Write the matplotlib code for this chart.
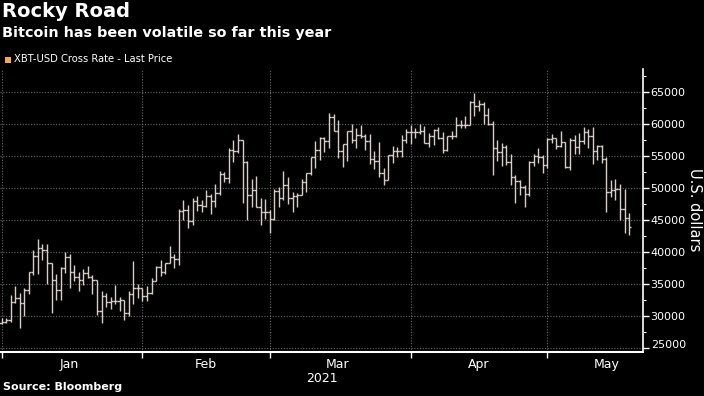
import matplotlib
matplotlib.use("Agg")
import matplotlib.pyplot as plt
import matplotlib.dates as mdates
import matplotlib.transforms as mtrans
from matplotlib.collections import LineCollection
from matplotlib.patches import Rectangle
from matplotlib.ticker import MultipleLocator, FixedLocator, NullFormatter
import numpy as np
import pandas as pd

# ---------------- data (XBT-USD daily OHLC) ----------------
start_date = "2021-01-01"
opens = [28900, 28950, 29375, 32100, 32780, 31970, 33990, 36800, 39400, 40670,
         40240, 38240, 35570, 34000, 37400, 39150, 36800, 36070, 35550, 36640,
         36000, 35550, 30800, 33000, 32100, 32300, 32250, 32500, 30400, 33400,
         34300, 34300, 33100, 33500, 35500, 37600, 36900, 38300, 39200, 38800,
         46400, 46500, 44900, 47900, 47400, 47200, 48700, 47900, 49200, 52200,
         51600, 55900, 55800, 57500, 54100, 48900, 49700, 47100, 46300, 46200,
         45200, 49600, 48400, 50500, 48400, 48800, 48900, 51000, 52400, 54900,
         56000, 57800, 57300, 61200, 59000, 55800, 56900, 58900, 57600, 58300,
         58100, 57400, 54500, 54300, 52300, 51300, 55100, 55800, 55800, 57600,
         58800, 58800, 58700, 59000, 57100, 58200, 59100, 57900, 56000, 58100,
         58200, 59800, 59800, 59900, 63500, 62900, 63200, 61400, 60100, 56200,
         55700, 56500, 54000, 51700, 51100, 50100, 49000, 54000, 55000, 54800,
         53600, 57700, 57800, 56600, 57200, 53300, 57500, 56400, 57300, 58800,
         58200, 55800, 56600, 54600, 49400, 49700, 49900, 46700, 45300]
highs = [29600, 29600, 33300, 34700, 33600, 34400, 36900, 40300, 41950, 41300,
         41300, 38300, 36600, 37600, 40000, 39700, 37900, 36800, 37300, 37800,
         36400, 35550, 33800, 33500, 32900, 34800, 32900, 32500, 33800, 38500,
         34900, 34300, 34700, 35900, 37700, 38700, 38300, 40900, 39600, 46700,
         48100, 47400, 48500, 48800, 48100, 49700, 49000, 50600, 52600, 52500,
         56300, 57500, 58400, 57500, 54200, 51400, 51900, 48400, 48300, 46600,
         49800, 50200, 52600, 51800, 49400, 49200, 51400, 52400, 54900, 57400,
         58000, 58000, 61700, 61600, 60600, 56900, 58900, 60100, 59400, 59800,
         58500, 58400, 55800, 57200, 53200, 55100, 56600, 56500, 58300, 59300,
         59800, 59400, 60000, 59700, 58600, 59200, 59500, 58700, 58200, 58900,
         61200, 60700, 61300, 63700, 64900, 63800, 63500, 62500, 60500, 57500,
         57100, 56700, 55400, 52100, 51200, 50500, 54300, 55400, 56300, 55100,
         57900, 58400, 57900, 58900, 57200, 57900, 58300, 58600, 59500, 59300,
         59500, 56800, 56700, 54900, 51300, 51400, 50600, 49800, 46100]
lows = [28700, 28800, 29000, 32000, 28100, 29900, 33400, 36300, 36600, 38700,
        35000, 30400, 32500, 32400, 36700, 34400, 35400, 33900, 34800, 35900,
        33400, 30100, 28900, 31400, 31000, 31900, 30800, 29300, 30000, 31900,
        32800, 32300, 32300, 33400, 35400, 36200, 36600, 38200, 37400, 37900,
        45000, 43700, 44200, 46400, 46300, 47000, 45900, 47100, 48900, 50900,
        50800, 54000, 55500, 47600, 45000, 47100, 47000, 44200, 45100, 43000,
        45000, 47100, 48100, 47500, 46300, 47100, 48900, 49300, 52000, 53200,
        54400, 55600, 56200, 58900, 54700, 53300, 54200, 57100, 56300, 57800,
        56000, 53800, 53000, 51700, 50400, 51300, 53900, 54800, 54900, 57100,
        56900, 57900, 58500, 57000, 56500, 56800, 57700, 55500, 55800, 57700,
        58000, 59400, 59400, 59900, 61300, 62100, 60000, 59800, 52000, 54200,
        53400, 53600, 50500, 47600, 48900, 47100, 48800, 53400, 53900, 52400,
        53100, 57100, 56100, 56500, 53100, 52900, 55300, 55400, 56900, 56300,
        53700, 54400, 53900, 46300, 48600, 48100, 45000, 43000, 42600]
closes = [28950, 29375, 32100, 32780, 31970, 33990, 36800, 39400, 40670, 40240,
          38240, 35570, 34000, 37400, 39150, 36800, 36070, 35550, 36640, 36000,
          35550, 30800, 33000, 32100, 32300, 32250, 32500, 30400, 33400, 34300,
          34300, 33100, 33500, 35500, 37600, 36900, 38300, 39200, 38800, 46400,
          46500, 44900, 47900, 47400, 47200, 48700, 47900, 49200, 52200, 51600,
          55900, 55800, 57500, 54100, 48900, 49700, 47100, 46300, 46200, 45200,
          49600, 48400, 50500, 48400, 48800, 48900, 51000, 52400, 54900, 56000,
          57800, 57300, 61200, 59000, 55800, 56900, 58900, 57600, 58300, 58100,
          57400, 54500, 54300, 52300, 51300, 55100, 55800, 55800, 57600, 58800,
          58800, 58700, 59000, 57100, 58200, 59100, 57900, 56000, 58100, 58200,
          59800, 59800, 59900, 63500, 62900, 63200, 61400, 60100, 56200, 55700,
          56500, 54000, 51700, 51100, 50100, 49000, 54000, 55000, 54800, 53600,
          57700, 57800, 56600, 57200, 53300, 57500, 56400, 57300, 58800, 58200,
          55800, 56600, 54600, 49400, 49700, 49900, 46700, 45300, 43900]
month_labels = ["Jan", "Feb", "Mar", "Apr", "May"]
month_label_dates = ["2021-01-16", "2021-02-15", "2021-03-16", "2021-04-16", "2021-05-14"]
y_ticks = [25000, 30000, 35000, 40000, 45000, 50000, 55000, 60000, 65000]

# ---------------- styling ----------------
BG = "#000000"
FG = "#ffffff"
BAR = "#d9cdca"
GRID = "#6a6a6a"
LEG = "#f4a65e"

plt.rcParams["font.family"] = ["DejaVu Sans"]

W, H = 704, 396
fig = plt.figure(figsize=(W / 100, H / 100), dpi=100, facecolor=BG)
ax = fig.add_axes([0 / W, 1 - 352 / H, 643 / W, (352 - 69) / H], facecolor=BG)

dates = pd.date_range(start_date, periods=len(opens), freq="D")
x = mdates.date2num(dates.to_pydatetime())
o = np.array(opens, float); h = np.array(highs, float)
l = np.array(lows, float); c = np.array(closes, float)
w = 0.5
segs = []
for xi, oi, hi, li, ci in zip(x, o, h, l, c):
    segs.append([(xi, li), (xi, hi)])
    segs.append([(xi - w, oi), (xi, oi)])
    segs.append([(xi, ci), (xi + w, ci)])
lc = LineCollection(segs, colors=BAR, linewidths=1.0, zorder=3)
ax.add_collection(lc)

x0 = mdates.date2num(pd.Timestamp(start_date).to_pydatetime())
ax.set_xlim(x0 - 0.33, x0 + 141.05)
ax.set_ylim(24300, 68650)

# month ticks
month_starts = pd.date_range("2021-01-01", periods=5, freq="MS")
ax.xaxis.set_major_locator(FixedLocator(mdates.date2num(month_starts.to_pydatetime())))
ax.xaxis.set_major_formatter(NullFormatter())
ax.xaxis.set_minor_locator(FixedLocator(mdates.date2num(pd.to_datetime(month_label_dates).to_pydatetime())))
ax.set_xticklabels(month_labels, minor=True)
ax.tick_params(axis="x", which="major", direction="out", length=4, width=1, color=FG)
ax.tick_params(axis="x", which="minor", length=0, pad=4, labelsize=9, labelcolor=FG)

# y axis on right
ax.yaxis.tick_right()
ax.set_yticks(y_ticks)
ax.set_yticklabels([str(v) for v in y_ticks])
ax.yaxis.set_minor_locator(MultipleLocator(2500))
ax.tick_params(axis="y", which="major", direction="out", length=4, width=1, color=FG,
               labelsize=8, labelcolor=FG, pad=1.5)
ax.tick_params(axis="y", which="minor", direction="out", length=2, width=0.8, color=FG)
for lab in ax.get_yticklabels():
    if lab.get_text() == "25000":
        lab.set_transform(lab.get_transform() + mtrans.ScaledTranslation(0, 4 / 100, fig.dpi_scale_trans))

ax.grid(True, which="major", axis="both", color=GRID, linestyle=(0, (1, 1.5)), linewidth=0.8)
ax.set_axisbelow(True)

for s in ["left", "top"]:
    ax.spines[s].set_visible(False)
ax.spines["bottom"].set_color(FG)
ax.spines["bottom"].set_linewidth(1.5)
ax.spines["right"].set_color(FG)
ax.spines["right"].set_linewidth(1.2)

ax.set_xlabel("2021", color=FG, fontsize=9, labelpad=1)
fig.text(695 / W, 1 - 210 / H, "U.S. dollars", color=FG, fontsize=10.5, rotation=270,
         va="center", ha="center")

# titles
fig.text(2 / W, 1 - 2 / H, "Rocky Road", color=FG, fontsize=14, fontweight="bold", va="top", ha="left")
fig.text(2 / W, 1 - 26 / H, "Bitcoin has been volatile so far this year", color=FG, fontsize=10.4,
         fontweight="bold", va="top", ha="left")
fig.patches.append(Rectangle((5 / W, 1 - 62.5 / H), 6 / W, 6 / H, transform=fig.transFigure,
                             facecolor=LEG, edgecolor="none"))
fig.text(14 / W, 1 - 59.5 / H, "XBT-USD Cross Rate - Last Price", color=FG, fontsize=7.2,
         va="center", ha="left")
fig.text(3 / W, 1 - 387.5 / H, "Source: Bloomberg", color=FG, fontsize=8, fontweight="bold",
         va="center", ha="left")

fig.savefig("out.png", dpi=100, facecolor=BG)
